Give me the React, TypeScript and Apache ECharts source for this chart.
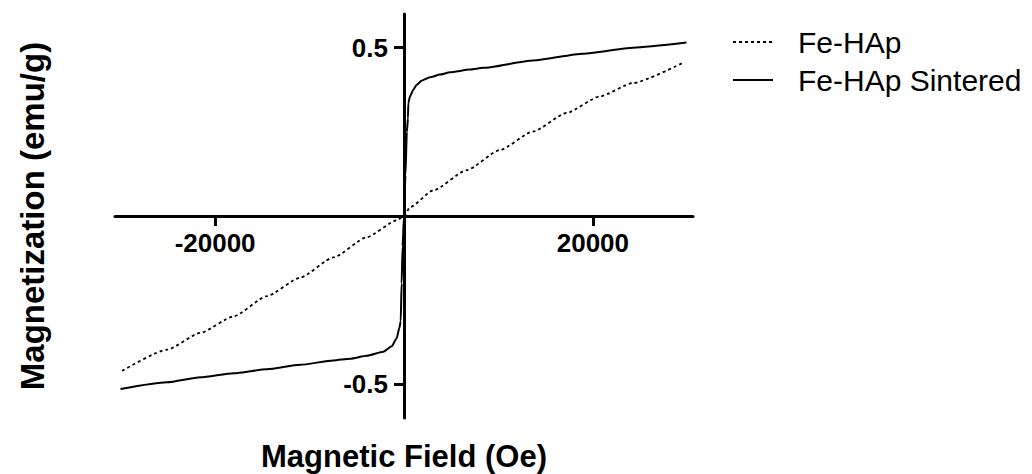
import React, { useEffect, useRef } from "react";
import * as echarts from "echarts";

const FONT = '"Liberation Sans", Arial, Helvetica, sans-serif';

// Fe-HAp Sintered (solid)
const sinteredField = [
  -30020, -25080, -21560, -18040, -14510, -10990, -7473, -5708, -3943, -2188,
  -1300, -772, -497, -349, -250, -150, 0, 150, 300, 420, 455, 634, 983, 1343,
  1871, 2749, 3806, 4863, 6977, 8380, 13670, 18960, 24250, 29900,
];
const sinteredMag = [
  -0.514, -0.494, -0.479, -0.467, -0.455, -0.442, -0.429, -0.424, -0.415, -0.403,
  -0.387, -0.363, -0.333, -0.313, -0.2, -0.09, 0, 0.12, 0.25, 0.29, 0.335, 0.355,
  0.375, 0.39, 0.402, 0.412, 0.42, 0.427, 0.435, 0.44, 0.462, 0.482, 0.5, 0.515,
];

// Fe-HAp (dotted)
const feHApField = [
  -29840, -25080, -21560, -18040, -14510, -10990, -7473, -3943, -772, 0, 634,
  3100, 6627, 10150, 13670, 17200, 20720, 24240, 29520,
];
const feHApMag = [
  -0.46, -0.397, -0.347, -0.298, -0.238, -0.183, -0.123, -0.063, -0.013, 0,
  0.026, 0.076, 0.136, 0.196, 0.251, 0.306, 0.355, 0.395, 0.455,
];

const xTicks = [-20000, 20000];
const yTicks = [-0.5, 0.5];
const seriesNames = ["Fe-HAp", "Fe-HAp Sintered"];

const zip = (xs: number[], ys: number[]) => xs.map((x, i) => [x, ys[i]]);

// grid geometry
const GRID_LEFT = 115;
const GRID_RIGHT = 339;
const GRID_TOP = 14;
const GRID_BOTTOM = 56;
const W = 1032;
const H = 474;
const X_MIN = -30600;
const X_MAX = 30600;
const Y_MIN = -0.6;
const Y_MAX = 0.6;

export default function App() {
  const ref = useRef<HTMLDivElement>(null);
  useEffect(() => {
    const chart = echarts.init(ref.current!, null, { renderer: "svg" });
    const gw = W - GRID_LEFT - GRID_RIGHT;
    const gh = H - GRID_TOP - GRID_BOTTOM;
    // move axes onto the zero lines
    const xOffset = -(gh * (0 - Y_MIN)) / (Y_MAX - Y_MIN);
    const yOffset = -(gw * (0 - X_MIN)) / (X_MAX - X_MIN);
    chart.setOption({
      animation: false,
      backgroundColor: "#fff",
      grid: { left: GRID_LEFT, right: GRID_RIGHT, top: GRID_TOP, bottom: GRID_BOTTOM },
      legend: {
        orient: "vertical",
        left: 727,
        top: 22,
        itemWidth: 40,
        itemHeight: 20,
        itemGap: 8,
        itemStyle: { color: "rgba(0,0,0,0)", borderWidth: 0 },
        textStyle: {
          fontSize: 30,
          fontFamily: FONT,
          color: "#000",
          lineHeight: 30,
          padding: [0, 0, 0, 20],
        },
        data: seriesNames,
      },
      xAxis: {
        type: "value",
        min: X_MIN,
        max: X_MAX,
        offset: xOffset,
        axisLine: { onZero: false, lineStyle: { color: "#000", width: 3 } },
        axisTick: {
          show: true,
          length: 10,
          customValues: xTicks,
          lineStyle: { color: "#000", width: 3 },
        },
        axisLabel: {
          customValues: xTicks,
          formatter: (v: number) => String(v),
          color: "#000",
          fontSize: 26,
          fontWeight: "bold",
          fontFamily: FONT,
          margin: 14,
        },
        splitLine: { show: false },
      },
      yAxis: {
        type: "value",
        min: Y_MIN,
        max: Y_MAX,
        offset: yOffset,
        axisLine: { onZero: false, lineStyle: { color: "#000", width: 3 } },
        axisTick: {
          show: true,
          length: 10,
          customValues: yTicks,
          lineStyle: { color: "#000", width: 3 },
        },
        axisLabel: {
          customValues: yTicks,
          formatter: (v: number) => String(v),
          color: "#000",
          fontSize: 26,
          fontWeight: "bold",
          fontFamily: FONT,
          margin: 16,
        },
        splitLine: { show: false },
      },
      graphic: [
        {
          type: "text",
          x: 404,
          y: 456,
          style: {
            text: "Magnetic Field (Oe)",
            align: "center",
            verticalAlign: "middle",
            fontSize: 31,
            fontWeight: "bold",
            fontFamily: FONT,
            fill: "#000",
          },
        },
        {
          type: "text",
          x: 32,
          y: 216,
          rotation: Math.PI / 2,
          style: {
            text: "Magnetization (emu/g)",
            align: "center",
            verticalAlign: "middle",
            fontSize: 33,
            fontWeight: "bold",
            fontFamily: FONT,
            fill: "#000",
          },
        },
      ],
      series: [
        {
          name: seriesNames[0],
          type: "line",
          data: zip(feHApField, feHApMag),
          symbol: "none",
          smooth: 0.2,
          smoothMonotone: "x",
          lineStyle: { color: "#000", width: 1.8, type: [3, 3] },
          itemStyle: { color: "#000" },
        },
        {
          name: seriesNames[1],
          type: "line",
          data: zip(sinteredField, sinteredMag),
          symbol: "none",
          smooth: 0.2,
          smoothMonotone: "x",
          lineStyle: { color: "#000", width: 2 },
          itemStyle: { color: "#000" },
        },
      ],
    });
    return () => chart.dispose();
  }, []);
  return (
    <div
      ref={ref}
      style={{ position: "absolute", left: 0, top: 0, width: W, height: H, background: "#fff" }}
    />
  );
}
